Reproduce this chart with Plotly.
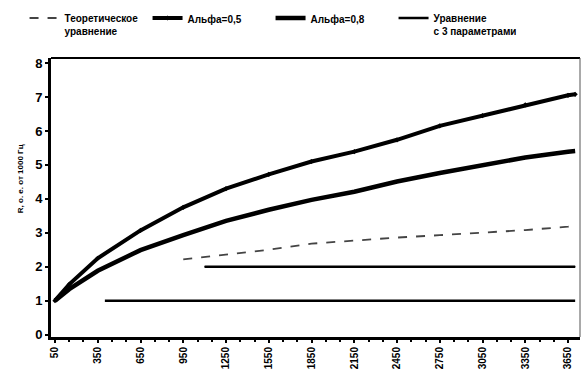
import plotly.graph_objects as go

# Frequency grid (Hz) and the labelled ticks of the x axis
tick_freqs = [50, 350, 650, 950, 1250, 1550, 1850, 2150, 2450, 2750, 3050, 3350, 3650]
tick_labels = [str(f) for f in tick_freqs]

# Curves, relative units
curve_x = [50, 150, 350, 650, 950, 1250, 1550, 1850, 2150, 2450, 2750, 3050, 3350, 3650, 3700]
alpha05 = [1.0, 1.48, 2.25, 3.07, 3.75, 4.30, 4.72, 5.10, 5.39, 5.74, 6.15, 6.45, 6.77, 7.05, 7.08]
alpha08 = [1.0, 1.34, 1.88, 2.49, 2.93, 3.35, 3.68, 3.97, 4.21, 4.51, 4.76, 4.99, 5.22, 5.39, 5.41]

theory_x = [950, 1250, 1550, 1850, 2150, 2450, 2750, 3050, 3350, 3650, 3700]
theory = [2.22, 2.35, 2.50, 2.68, 2.78, 2.86, 2.93, 3.00, 3.08, 3.18, 3.22]

three_param_x = [1100, 3700]
three_param = [2.0, 2.0]

base_x = [400, 3700]
base = [1.0, 1.0]

fig = go.Figure()
fig.add_trace(go.Scatter(x=theory_x, y=theory, mode="lines", name="Теоретическое<br>уравнение",
                         line=dict(color="#444444", width=1.8, dash="dash")))
fig.add_trace(go.Scatter(x=curve_x, y=alpha05, mode="lines+markers", name="Альфа=0,5",
                         line=dict(color="black", width=4),
                         marker=dict(symbol="diamond", size=4, color="black")))
fig.add_trace(go.Scatter(x=curve_x, y=alpha08, mode="lines", name="Альфа=0,8",
                         line=dict(color="black", width=4.5)))
fig.add_trace(go.Scatter(x=three_param_x, y=three_param, mode="lines+markers",
                         name="Уравнение<br>с 3 параметрами",
                         line=dict(color="black", width=2.5),
                         marker=dict(symbol="circle", size=1, color="black")))
fig.add_trace(go.Scatter(x=base_x, y=base, mode="lines", showlegend=False,
                         line=dict(color="black", width=2.5)))

bold = dict(family="Liberation Sans", color="black", weight="bold")

fig.update_layout(
    width=583, height=383,
    margin=dict(l=51, r=3, t=58, b=46),
    paper_bgcolor="white", plot_bgcolor="white",
    font=dict(**bold, size=10),
    legend=dict(orientation="h", x=-0.05, xanchor="left", y=1.19, yanchor="top",
                entrywidth=78, entrywidthmode="pixels", valign="top",
                font=dict(**bold, size=10), itemwidth=30,
                bgcolor="rgba(0,0,0,0)"),
    xaxis=dict(range=[22, 3734], tickvals=tick_freqs, ticktext=tick_labels,
               tickangle=-90, tickfont=dict(**bold, size=10),
               showgrid=False, zeroline=False, showline=True, linecolor="black", linewidth=3,
               mirror=False, ticks="outside", ticklen=3, tickwidth=2, tickcolor="black",
               minor=dict(dtick=100, tick0=50, ticks="outside", ticklen=2, tickwidth=2, tickcolor="black")),
    yaxis=dict(range=[-0.07, 8.15], tickvals=list(range(0, 9)),
               tickfont=dict(**bold, size=13),
               showgrid=False, zeroline=False, showline=True, linecolor="black", linewidth=3,
               ticks="outside", ticklen=3, tickwidth=2, tickcolor="black"),
    shapes=[
        dict(type="line", xref="paper", yref="paper", x0=0, x1=1, y0=1, y1=1,
             line=dict(color="black", width=2)),
        dict(type="line", xref="paper", yref="paper", x0=1, x1=1, y0=0, y1=1,
             line=dict(color="#555555", width=1)),
    ],
    annotations=[
        dict(text="R, о. е. от 1000 Гц", textangle=-90, xref="paper", yref="y",
             x=-0.045, xanchor="right", y=4.6, yanchor="middle", showarrow=False,
             font=dict(**bold, size=8)),
    ],
)

fig.write_html("out.html")
